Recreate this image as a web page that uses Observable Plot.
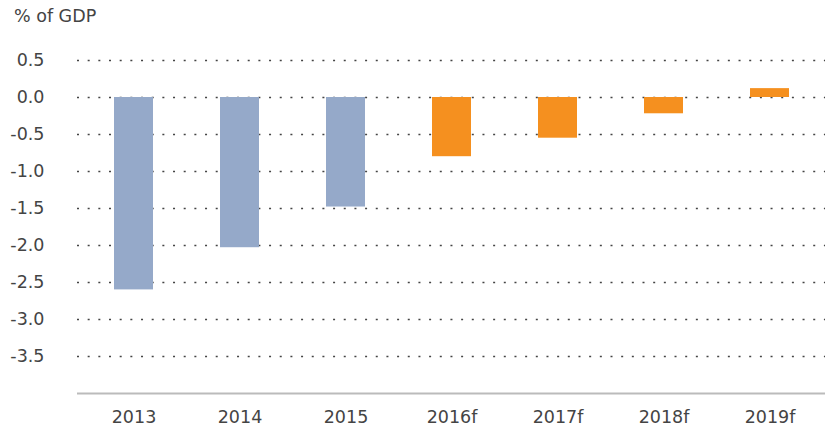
<!DOCTYPE html>
<html>
<head>
<meta charset="utf-8">
<script src="https://cdn.jsdelivr.net/npm/d3@7"></script>
<script src="https://cdn.jsdelivr.net/npm/@observablehq/plot@0.6"></script>
<style>
  body { margin: 0; background: #fff; }
  #wrap { position: relative; width: 829px; height: 428px; font-family: "DejaVu Sans", Verdana, sans-serif; }
  #title { position: absolute; left: 14px; top: 6px; font-size: 17.5px; color: #444; }
</style>
</head>
<body>
<div id="wrap"><div id="title">% of GDP</div><div id="chart"></div></div>
<script>
const years = ["2013", "2014", "2015", "2016f", "2017f", "2018f", "2019f"];
const balance = [-2.6, -2.03, -1.48, -0.8, -0.55, -0.22, 0.12];
const kind = ["actual", "actual", "actual", "forecast", "forecast", "forecast", "forecast"];
const yTicks = [0.5, 0, -0.5, -1, -1.5, -2, -2.5, -3, -3.5];

const data = years.map((y, i) => ({year: y, value: balance[i], kind: kind[i]}));

const chart = Plot.plot({
  width: 829,
  height: 428,
  marginTop: 60,
  marginBottom: 35,
  marginLeft: 77,
  marginRight: 4,
  style: {fontFamily: "DejaVu Sans, Verdana, sans-serif", color: "#444", background: "#fff"},
  x: {domain: years, paddingInner: 0.633, paddingOuter: 0.34},
  y: {domain: [-4, 0.5]},
  color: {domain: ["actual", "forecast"], range: ["#95a9c9", "#f5901f"]},
  marks: [
    Plot.ruleY(yTicks, {stroke: "#444", strokeWidth: 1.3, strokeDasharray: "2,8.67"}),
    Plot.barY(data, {x: "year", y1: 0, y2: "value", fill: "kind"}),
    Plot.ruleY([-4], {stroke: "#bbb", strokeWidth: 2}),
    Plot.axisX({label: null, tickSize: 0, tickPadding: 17, fontSize: 17.5, fill: "#444"}),
    Plot.axisY(yTicks, {label: null, tickSize: 0, tickPadding: 33, fontSize: 17.5, fill: "#444", tickFormat: d => d.toFixed(1)})
  ]
});
document.getElementById("chart").appendChild(chart);
</script>
</body>
</html>
